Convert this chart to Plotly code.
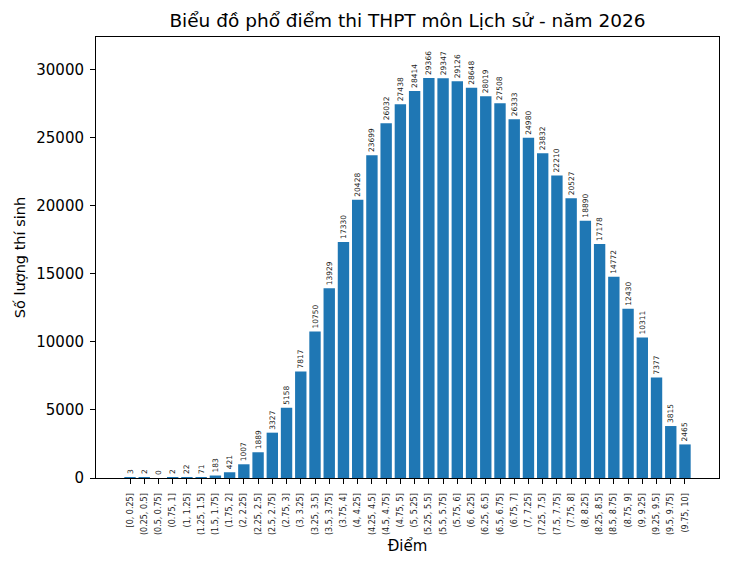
import plotly.graph_objects as go

categories = ["[0, 0.25]", "(0.25, 0.5]", "(0.5, 0.75]", "(0.75, 1]", "(1, 1.25]", "(1.25, 1.5]",
              "(1.5, 1.75]", "(1.75, 2]", "(2, 2.25]", "(2.25, 2.5]", "(2.5, 2.75]", "(2.75, 3]",
              "(3, 3.25]", "(3.25, 3.5]", "(3.5, 3.75]", "(3.75, 4]", "(4, 4.25]", "(4.25, 4.5]",
              "(4.5, 4.75]", "(4.75, 5]", "(5, 5.25]", "(5.25, 5.5]", "(5.5, 5.75]", "(5.75, 6]",
              "(6, 6.25]", "(6.25, 6.5]", "(6.5, 6.75]", "(6.75, 7]", "(7, 7.25]", "(7.25, 7.5]",
              "(7.5, 7.75]", "(7.75, 8]", "(8, 8.25]", "(8.25, 8.5]", "(8.5, 8.75]", "(8.75, 9]",
              "(9, 9.25]", "(9.25, 9.5]", "(9.5, 9.75]", "(9.75, 10]"]
counts = [3, 2, 0, 2, 22, 71, 183, 421, 1007, 1889, 3327, 5158, 7817, 10750, 13929, 17330,
          20428, 23699, 26032, 27438, 28414, 29366, 29347, 29126, 28648, 28019, 27508, 26333,
          24980, 23832, 22210, 20527, 18890, 17178, 14772, 12430, 10311, 7377, 3815, 2465]
y_ticks = [0, 5000, 10000, 15000, 20000, 25000, 30000]

font = "DejaVu Sans"
x = list(range(len(categories)))

fig = go.Figure(go.Bar(
    x=x, y=counts,
    marker=dict(color="#1f77b4", line=dict(width=0)),
    width=0.8,
    text=[str(v) for v in counts],
    textposition="outside",
    textangle=-90,
    constraintext="none",
    cliponaxis=False,
    textfont=dict(family=font, size=7.5, color="#222"),
))

fig.update_layout(
    width=730, height=565,
    margin=dict(l=96, r=11, t=37, b=87),
    plot_bgcolor="white", paper_bgcolor="white",
    font=dict(family=font, color="black"),
    title=dict(text="Biểu đồ phổ điểm thi THPT môn Lịch sử - năm 2026",
               x=(96 + 719) / 2 / 730, xanchor="center", y=1 - 21/565, yanchor="middle",
               font=dict(size=18.5, family=font)),
    showlegend=False,
    bargap=0.2,
)
fig.update_xaxes(
    range=[-2.39, 41.39],
    tickmode="array", tickvals=x, ticktext=categories,
    tickangle=-90, tickfont=dict(size=8, family=font, color="#222"),
    ticks="outside", ticklen=5, tickcolor="black",
    ticklabelstandoff=6,
    showline=True, linecolor="black", linewidth=1, mirror=True,
    showgrid=False, zeroline=False,
    title=dict(text="Điểm", font=dict(size=15, family=font), standoff=6),
)
fig.update_yaxes(
    range=[0, 32370],
    tickmode="array", tickvals=y_ticks, ticktext=[str(v) for v in y_ticks],
    tickfont=dict(size=15, family=font),
    ticks="outside", ticklen=5, tickcolor="black",
    ticklabelstandoff=3,
    showline=True, linecolor="black", linewidth=1, mirror=True,
    showgrid=False, zeroline=False,
    title=dict(text="Số lượng thí sinh", font=dict(size=14.5, family=font), standoff=7),
)

fig.write_html("out.html")
